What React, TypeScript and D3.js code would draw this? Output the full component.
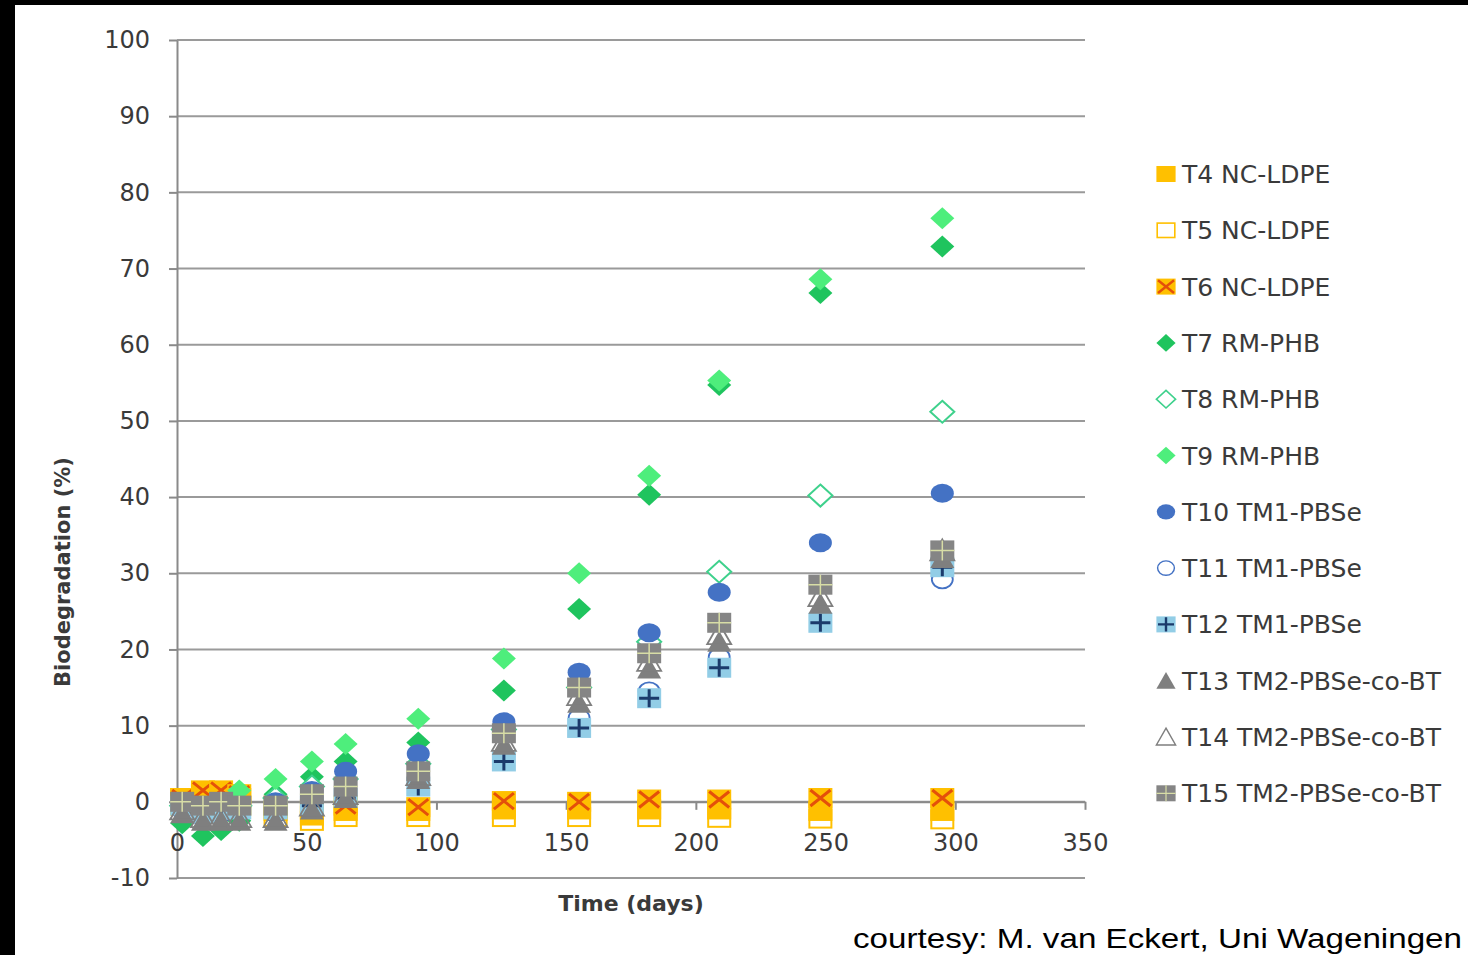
import React, { useEffect, useRef } from "react";
import * as d3 from "d3";

// sampling days (x) and biodegradation % per treatment
const days = [2, 10, 17, 24, 38, 52, 65, 93, 126, 155, 182, 209, 248, 295];

const t4 = [0.5, 1, 1, 0.5, -1.2, -1.8, -1.2, -1.2, -1, -1, -1, -1, -1.2, -1.2];
const t5 = [-0.5, -0.5, 0, -0.5, -2, -2.5, -2, -2, -2, -2, -2, -2.1, -2.2, -2.3];
const t6 = [0.5, 1.5, 1.5, 1, -0.5, -1, -0.5, -0.7, 0.1, 0, 0.3, 0.3, 0.5, 0.5];
const t7 = [-2.8, -4.5, -3.7, -2.5, 1, 3.3, 5.3, 7.8, 14.6, 25.3, 40.3, 54.7, 66.8, 72.9];
const t8 = [-0.5, -1, -1, -0.5, 0.5, 2, 3, 5, 9.5, 15, 21, 30.2, 40.2, 51.2];
const t9 = [-1, -2, -1.5, 1.5, 3, 5.3, 7.6, 10.9, 18.8, 30, 42.8, 55.3, 68.6, 76.6];
const t10 = [-0.5, -1, -0.5, -0.5, 0, 1.5, 4, 6.3, 10.5, 17, 22.2, 27.5, 34, 40.5];
const t11 = [-1, -2, -1.5, -1, -1.5, 0, 1.5, 3, 6, 11, 14.5, 19, 24, 29.2];
const t12 = [-0.5, -1.5, -1, -1, -1, -0.5, 0.5, 2, 5.3, 9.7, 13.6, 17.6, 23.5, 30.8];
const t13 = [-1.5, -2.5, -2.5, -2.5, -2.5, -1, 0.5, 3, 7.5, 13, 17.5, 21, 26, 32];
const t14 = [-1, -2, -2, -2, -2, -0.5, 1, 3.5, 8, 14, 18.5, 22, 27, 33];
const t15 = [0, -0.5, 0, -0.5, -0.5, 1, 2, 4, 9, 15, 19.5, 23.5, 28.5, 33];

const seriesNames = [
  "T4 NC-LDPE", "T5 NC-LDPE", "T6 NC-LDPE",
  "T7 RM-PHB", "T8 RM-PHB", "T9 RM-PHB",
  "T10 TM1-PBSe", "T11 TM1-PBSe", "T12 TM1-PBSe",
  "T13 TM2-PBSe-co-BT", "T14 TM2-PBSe-co-BT", "T15 TM2-PBSe-co-BT",
];
const seriesValues = [t4, t5, t6, t7, t8, t9, t10, t11, t12, t13, t14, t15];

const yTicks = [-10, 0, 10, 20, 30, 40, 50, 60, 70, 80, 90, 100];
const xTicks = [0, 50, 100, 150, 200, 250, 300, 350];

const ORANGE = "#FFC000";
const BLUE = "#4472C4";
const GRAY = "#7F7F7F";

// draws one marker of series i centred at (0,0) inside g
function drawMarker(g, i, inLegend) {
  const w = 12, h = 10;
  const diamond = `M0,${-h - 1}L${w},0L0,${h + 1}L${-w},0Z`;
  const tri = `M0,${-h - 1}L${w},${h}L${-w},${h}Z`;
  const openFill = inLegend ? "white" : "none";
  switch (i) {
    case 0:
      g.append("rect").attr("x", -w).attr("y", -h).attr("width", 2 * w).attr("height", 2 * h).attr("fill", ORANGE);
      break;
    case 1:
      g.append("rect").attr("x", -w + 1).attr("y", -h + 1).attr("width", 2 * w - 2).attr("height", 2 * h - 2)
        .attr("fill", openFill).attr("stroke", ORANGE).attr("stroke-width", 2);
      break;
    case 2:
      g.append("rect").attr("x", -w).attr("y", -h).attr("width", 2 * w).attr("height", 2 * h).attr("fill", ORANGE);
      g.append("path").attr("d", `M${-w + 2},${-h + 2}L${w - 2},${h - 2}M${w - 2},${-h + 2}L${-w + 2},${h - 2}`)
        .attr("stroke", "#E4500A").attr("stroke-width", 3);
      break;
    case 3:
      g.append("path").attr("d", diamond).attr("fill", "#1FC45E");
      break;
    case 4:
      g.append("path").attr("d", diamond).attr("fill", "white").attr("stroke", "#3ED18C").attr("stroke-width", 2);
      break;
    case 5:
      g.append("path").attr("d", diamond).attr("fill", "#4EEE7C");
      break;
    case 6:
      g.append("ellipse").attr("rx", 11.5).attr("ry", 9.5).attr("fill", BLUE);
      break;
    case 7:
      g.append("ellipse").attr("rx", 10.5).attr("ry", 9).attr("fill", "white").attr("stroke", BLUE).attr("stroke-width", 1.8);
      break;
    case 8:
      g.append("rect").attr("x", -w).attr("y", -h).attr("width", 2 * w).attr("height", 2 * h).attr("fill", "#92CDE6");
      g.append("path").attr("d", `M0,${-h + 1}V${h - 1}M${-w + 2},0H${w - 2}`)
        .attr("stroke", "#1B3A6B").attr("stroke-width", 3);
      break;
    case 9:
      g.append("path").attr("d", tri).attr("fill", GRAY);
      break;
    case 10:
      g.append("path").attr("d", tri).attr("fill", openFill).attr("stroke", GRAY).attr("stroke-width", 1.8);
      break;
    default:
      g.append("rect").attr("x", -w).attr("y", -h).attr("width", 2 * w).attr("height", 2 * h).attr("fill", "#858585");
      g.append("path").attr("d", `M0,${-h}V${h}M${-w},0H${w}`)
        .attr("stroke", "#D8DDA6").attr("stroke-width", 1.5);
  }
}

const App = () => {
  const svgRef = useRef(null);

  useEffect(() => {
    const svg = d3.select(svgRef.current);
    svg.selectAll("*").remove();

    const W = 1468, H = 955;
    const left = 177, right = 1085, top = 40, bottom = 878;

    svg.attr("width", W).attr("height", H);
    svg.append("rect").attr("width", W).attr("height", H).attr("fill", "white");
    // black frame of the original screenshot
    svg.append("rect").attr("x", 0).attr("y", 0).attr("width", 15).attr("height", H).attr("fill", "black");
    svg.append("rect").attr("x", 0).attr("y", 0).attr("width", W).attr("height", 5).attr("fill", "black");

    const xScale = d3.scaleLinear().domain([0, 350]).range([left, right]);
    const yScale = d3.scaleLinear().domain([-10, 100]).range([bottom, top]);

    const font = "'DejaVu Sans', sans-serif";
    const textColor = "#3a3a3a";

    // Gridlines
    svg.append("g")
      .selectAll("line")
      .data(yTicks)
      .join("line")
      .attr("x1", left)
      .attr("x2", right)
      .attr("y1", (d) => yScale(d))
      .attr("y2", (d) => yScale(d))
      .attr("stroke", "#9a9a9a")
      .attr("stroke-width", 2);

    // Y axis
    const yAxis = svg.append("g")
      .attr("transform", `translate(${left},0)`)
      .call(d3.axisLeft(yScale).tickValues(yTicks).tickFormat((d) => String(d))
        .tickSize(8).tickPadding(19).tickSizeOuter(0));
    yAxis.select(".domain").attr("stroke", "#8a8a8a").attr("stroke-width", 2);
    yAxis.selectAll(".tick line").attr("stroke", "#8a8a8a").attr("stroke-width", 2);
    yAxis.selectAll("text")
      .style("font-size", "24px")
      .style("font-family", font)
      .attr("fill", textColor);

    // X axis on the zero line
    const xAxis = svg.append("g")
      .attr("transform", `translate(0,${yScale(0)})`)
      .call(d3.axisBottom(xScale).tickValues(xTicks).tickSize(8).tickPadding(24).tickSizeOuter(0));
    xAxis.select(".domain").attr("stroke", "#8a8a8a").attr("stroke-width", 2);
    xAxis.selectAll(".tick line").attr("stroke", "#8a8a8a").attr("stroke-width", 2);
    xAxis.selectAll("text")
      .style("font-size", "24px")
      .style("font-family", font)
      .attr("fill", textColor);

    // Points, one group per series, later series on top
    seriesValues.forEach((vals, i) => {
      const g = svg.append("g");
      vals.forEach((v, j) => {
        const m = g.append("g").attr("transform", `translate(${xScale(days[j])},${yScale(v)})`);
        drawMarker(m, i, false);
      });
    });

    // Axis labels
    svg.append("text")
      .attr("transform", `translate(${631},${911})`)
      .style("text-anchor", "middle")
      .style("font-size", "22px")
      .style("font-weight", "bold")
      .style("font-family", font)
      .attr("fill", textColor)
      .text("Time (days)");

    svg.append("text")
      .attr("transform", "rotate(-90)")
      .attr("y", 70)
      .attr("x", -572)
      .style("text-anchor", "middle")
      .style("font-size", "21px")
      .style("font-weight", "bold")
      .style("font-family", font)
      .attr("fill", textColor)
      .text("Biodegradation  (%)");

    // Legend
    const legendGroup = svg.append("g");
    seriesNames.forEach((name, i) => {
      const yPosition = 174 + i * 56.3;
      const m = legendGroup.append("g")
        .attr("transform", `translate(1166,${yPosition}) scale(0.8)`);
      drawMarker(m, i, true);
      legendGroup.append("text")
        .attr("x", 1182)
        .attr("y", yPosition + 9)
        .style("font-size", "25px")
        .style("font-family", font)
        .attr("fill", textColor)
        .text(name);
    });

    // credit line
    svg.append("text")
      .attr("x", 853)
      .attr("y", 948)
      .attr("textLength", 609)
      .attr("lengthAdjust", "spacingAndGlyphs")
      .style("font-size", "28px")
      .style("font-family", "'Liberation Sans', sans-serif")
      .attr("fill", "black")
      .text("courtesy: M. van Eckert, Uni Wageningen");
  }, []);

  return (
    <div style={{ position: "absolute", left: 0, top: 0 }}>
      <svg ref={svgRef}></svg>
    </div>
  );
};

export default App;
